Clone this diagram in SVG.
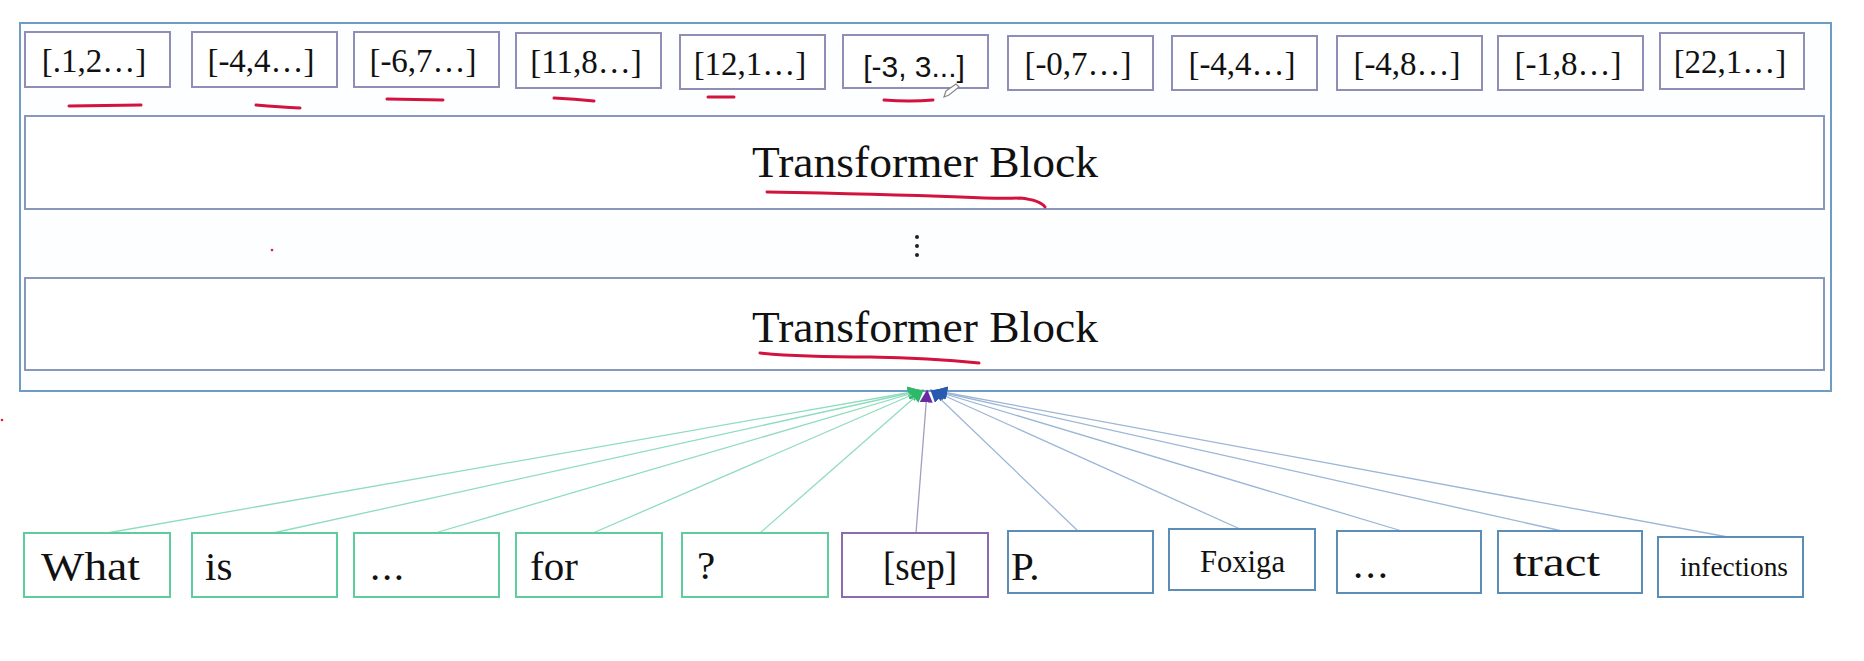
<svg xmlns="http://www.w3.org/2000/svg" width="1864" height="661" viewBox="0 0 1864 661">
<defs>
<style>
.serif{font-family:"Liberation Serif","DejaVu Serif","Times New Roman",serif;fill:#111}
.emb{font-size:33px;text-anchor:middle}
.tok{font-size:41px}
.box{fill:#fff;stroke-width:2}
.top{stroke:#8e8eb6}
.tb{fill:#fff;stroke:#8a96ba;stroke-width:2}
.g{stroke:#5dcd9e}
.p{stroke:#8a6cae}
.b{stroke:#5b8db6}
.red{fill:none;stroke:#d3123e;stroke-width:3;stroke-linecap:round;stroke-linejoin:round}
.cg{fill:none;stroke:#8fdcbf;stroke-width:1.3}
.cp{fill:none;stroke:#a59cc0;stroke-width:1.3}
.cb{fill:none;stroke:#9bb6d6;stroke-width:1.3}
</style>
<marker id="ag" viewBox="0 0 10 10" refX="8" refY="5" markerWidth="13" markerHeight="13" markerUnits="userSpaceOnUse" orient="auto"><path d="M0,0 L10,5 L0,10 z" fill="#2fb86a"/></marker>
<marker id="ap" viewBox="0 0 10 10" refX="8" refY="5" markerWidth="13" markerHeight="13" markerUnits="userSpaceOnUse" orient="auto"><path d="M0,0 L10,5 L0,10 z" fill="#6a2aa0"/></marker>
<marker id="ab" viewBox="0 0 10 10" refX="8" refY="5" markerWidth="13" markerHeight="13" markerUnits="userSpaceOnUse" orient="auto"><path d="M0,0 L10,5 L0,10 z" fill="#2a5ab0"/></marker>
</defs>
<rect width="1864" height="661" fill="#fff"/>

<g id="encoder">
<rect x="20" y="23" width="1811" height="368" fill="#fdfeff" stroke="#6f9cc4" stroke-width="2"/>
</g>

<g id="transformer-block-1">
<rect class="tb" x="25" y="116" width="1799" height="93"/>
<text class="serif" x="925" y="177" font-size="45" text-anchor="middle" textLength="346" lengthAdjust="spacingAndGlyphs">Transformer Block</text>
</g>
<g id="ellipsis">
<circle cx="917" cy="237" r="2" fill="#222"/>
<circle cx="917" cy="246" r="2" fill="#222"/>
<circle cx="917" cy="255" r="2" fill="#222"/>
</g>
<g id="transformer-block-2">
<rect class="tb" x="25" y="278" width="1799" height="92"/>
<text class="serif" x="925" y="342" font-size="45" text-anchor="middle" textLength="346" lengthAdjust="spacingAndGlyphs">Transformer Block</text>
</g>

<g id="emb-1"><rect class="box top" x="25" y="32" width="145" height="55"/><text class="serif emb" x="94" y="72">[.1,2…]</text></g>
<g id="emb-2"><rect class="box top" x="192" y="32" width="145" height="55"/><text class="serif emb" x="261" y="72">[-4,4…]</text></g>
<g id="emb-3"><rect class="box top" x="354" y="32" width="145" height="55"/><text class="serif emb" x="423" y="72">[-6,7…]</text></g>
<g id="emb-4"><rect class="box top" x="516" y="33" width="145" height="55"/><text class="serif emb" x="586" y="73">[11,8…]</text></g>
<g id="emb-5"><rect class="box top" x="680" y="35" width="145" height="54"/><text class="serif emb" x="750" y="75">[12,1…]</text></g>
<g id="emb-6"><rect class="box top" x="843" y="35" width="145" height="53"/><text x="914" y="77" font-family="'Liberation Sans',Arial,sans-serif" font-size="30" text-anchor="middle" fill="#111">[-3, 3...]</text></g>
<g id="emb-7"><rect class="box top" x="1008" y="36" width="145" height="54"/><text class="serif emb" x="1078" y="75">[-0,7…]</text></g>
<g id="emb-8"><rect class="box top" x="1172" y="36" width="145" height="54"/><text class="serif emb" x="1242" y="75">[-4,4…]</text></g>
<g id="emb-9"><rect class="box top" x="1337" y="36" width="145" height="54"/><text class="serif emb" x="1407" y="75">[-4,8…]</text></g>
<g id="emb-10"><rect class="box top" x="1498" y="36" width="145" height="54"/><text class="serif emb" x="1568" y="75">[-1,8…]</text></g>
<g id="emb-11"><rect class="box top" x="1660" y="33" width="144" height="56"/><text class="serif emb" x="1730" y="73">[22,1…]</text></g>

<g id="connectors">
<path class="cg" d="M107,533 L918,391" marker-end="url(#ag)"/>
<path class="cg" d="M273,533 L919,391" marker-end="url(#ag)"/>
<path class="cg" d="M435,533 L920,391" marker-end="url(#ag)"/>
<path class="cg" d="M593,533 L921,391" marker-end="url(#ag)"/>
<path class="cg" d="M760,533 L922,391" marker-end="url(#ag)"/>
<path class="cp" d="M916,533 L927,392" marker-end="url(#ap)"/>
<path class="cb" d="M1078,531 L932,391" marker-end="url(#ab)"/>
<path class="cb" d="M1240,529 L934,391" marker-end="url(#ab)"/>
<path class="cb" d="M1402,531 L935,391" marker-end="url(#ab)"/>
<path class="cb" d="M1562,531 L936,391" marker-end="url(#ab)"/>
<path class="cb" d="M1728,537 L937,391" marker-end="url(#ab)"/>
</g>

<g id="tok-what"><rect class="box g" x="24" y="533" width="146" height="64"/><text class="serif tok" x="41" y="580" textLength="99" lengthAdjust="spacingAndGlyphs">What</text></g>
<g id="tok-is"><rect class="box g" x="192" y="533" width="145" height="64"/><text class="serif tok" x="205" y="580">is</text></g>
<g id="tok-dots1"><rect class="box g" x="354" y="533" width="145" height="64"/><text class="serif tok" x="370" y="580" textLength="34" lengthAdjust="spacing">...</text></g>
<g id="tok-for"><rect class="box g" x="516" y="533" width="146" height="64"/><text class="serif tok" x="530" y="580">for</text></g>
<g id="tok-q"><rect class="box g" x="682" y="533" width="146" height="64"/><text class="serif tok" x="697" y="579">?</text></g>
<g id="tok-sep"><rect class="box p" x="842" y="533" width="146" height="64"/><text class="serif tok" x="883" y="580" textLength="74" lengthAdjust="spacingAndGlyphs">[sep]</text></g>
<g id="tok-p"><rect class="box b" x="1008" y="531" width="145" height="62"/><text class="serif tok" x="1011" y="580">P.</text></g>
<g id="tok-foxiga"><rect class="box b" x="1169" y="529" width="146" height="61"/><text class="serif" x="1200" y="572" font-size="31" textLength="85" lengthAdjust="spacingAndGlyphs">Foxiga</text></g>
<g id="tok-dots2"><rect class="box b" x="1337" y="531" width="144" height="62"/><text class="serif tok" x="1353" y="578" textLength="35" lengthAdjust="spacing">...</text></g>
<g id="tok-tract"><rect class="box b" x="1498" y="531" width="144" height="62"/><text class="serif tok" x="1513" y="576" textLength="87" lengthAdjust="spacingAndGlyphs">tract</text></g>
<g id="tok-infections"><rect class="box b" x="1658" y="537" width="145" height="60"/><text class="serif" x="1680" y="576" font-size="27" textLength="108" lengthAdjust="spacingAndGlyphs">infections</text></g>

<g id="annotations">
<path class="red" d="M69,106 L141,105"/>
<path class="red" d="M256,105 Q280,107 300,108"/>
<path class="red" d="M387,99 L443,100"/>
<path class="red" d="M554,98 Q575,99 594,101"/>
<path class="red" d="M708,97 L734,97"/>
<path class="red" d="M884,100 Q910,102 933,100"/>
<path class="red" d="M767,192 Q880,194 960,197 Q1000,199 1020,198 Q1040,200 1045,207"/>
<path class="red" d="M760,353 Q800,357 870,357 Q930,358 979,363"/>
<circle cx="272" cy="250" r="1.3" fill="#e0203a"/>
<circle cx="2" cy="420" r="1.3" fill="#e0203a"/>
<path d="M944,97 L946,91 L956,84 L959,87 L949,95 Z" fill="#fff" stroke="#888" stroke-width="1.2"/>
</g>
</svg>
